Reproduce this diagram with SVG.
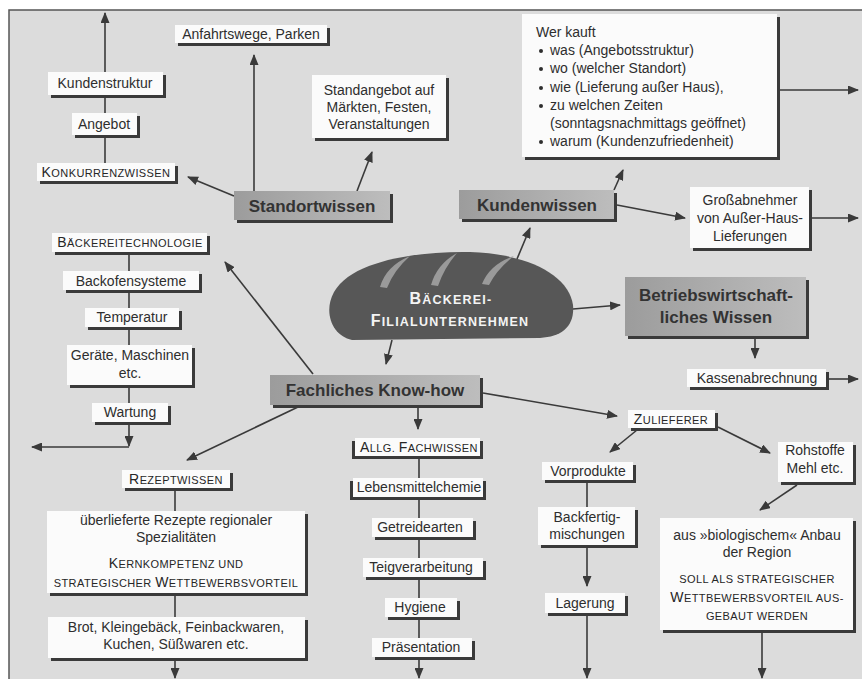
<svg xmlns="http://www.w3.org/2000/svg" width="862" height="679" viewBox="0 0 862 679">
  <defs>
    <marker id="ah" markerWidth="11" markerHeight="9" refX="10" refY="4.5" orient="auto" markerUnits="userSpaceOnUse">
      <path d="M0,0 L11,4.5 L0,9 Z" fill="#3a3a3a"/>
    </marker>
    <linearGradient id="gk" x1="0" y1="0" x2="1" y2="0">
      <stop offset="0" stop-color="#9c9c9c"/>
      <stop offset="1" stop-color="#bdbdbd"/>
    </linearGradient>
    <style>
      text { font-family: "Liberation Sans", Arial, sans-serif; fill: #2e2e2e; }
      .t { font-size: 14px; text-anchor: middle; }
      .l { font-size: 14px; }
      .h { font-size: 17px; font-weight: bold; text-anchor: middle; fill: #333; }
      .sc { font-size: 11px; text-anchor: middle; letter-spacing: 0.4px; fill: #262626; }
      .cap { font-size: 14px; }
      .box { fill: #fbfbfb; }
      .sh { fill: #3a3a3a; }
      .gbox { fill: url(#gk); }
      .con line { stroke: #3a3a3a; stroke-width: 1.6; fill: none; }
      .arr { marker-end: url(#ah); }
      .loaftxt { font-size: 12.5px; font-weight: bold; fill: #f4f4f4; text-anchor: middle; letter-spacing: 1.2px; }
      .loafcap { font-size: 16px; }
    </style>
  </defs>

  <!-- page and frame -->
  <rect width="862" height="679" fill="#ffffff"/>
  <rect x="9" y="10" width="853" height="669" fill="#dcdcdc"/>
  <polyline points="9,679 9,10 862,10" fill="none" stroke="#555" stroke-width="1.5"/>

  <!-- connectors -->
  <g id="connectors" class="con">
    <line class="arr" x1="105" y1="72" x2="105" y2="13"/>
    <line x1="105" y1="95" x2="105" y2="113"/>
    <line x1="105" y1="135" x2="105" y2="163"/>
    <line class="arr" x1="254" y1="191" x2="254" y2="55"/>
    <line class="arr" x1="234" y1="196" x2="188" y2="177"/>
    <line class="arr" x1="357" y1="191" x2="372" y2="152"/>
    <line class="arr" x1="614" y1="190" x2="623" y2="170"/>
    <line class="arr" x1="780" y1="90" x2="858" y2="90"/>
    <line class="arr" x1="617" y1="205" x2="685" y2="218"/>
    <line class="arr" x1="812" y1="218" x2="858" y2="218"/>
    <line class="arr" x1="517" y1="259" x2="530" y2="228"/>
    <line class="arr" x1="573" y1="309" x2="620" y2="305"/>
    <line class="arr" x1="755" y1="339" x2="755" y2="358"/>
    <line class="arr" x1="829" y1="379" x2="858" y2="379"/>
    <line class="arr" x1="392" y1="340" x2="386" y2="364"/>
    <line class="arr" x1="313" y1="374" x2="225" y2="262"/>
    <line x1="129" y1="252" x2="129" y2="271"/>
    <line x1="129" y1="290" x2="129" y2="308"/>
    <line x1="129" y1="327" x2="129" y2="345"/>
    <line x1="129" y1="385" x2="129" y2="403"/>
    <line class="arr" x1="129" y1="422" x2="129" y2="446"/>
    <line class="arr" x1="129" y1="447" x2="32" y2="447"/>
    <line class="arr" x1="298" y1="407" x2="187" y2="460"/>
    <line class="arr" x1="418" y1="407" x2="418" y2="429"/>
    <line x1="419" y1="458" x2="419" y2="478"/>
    <line x1="419" y1="497" x2="419" y2="518"/>
    <line x1="419" y1="537" x2="419" y2="558"/>
    <line x1="419" y1="577" x2="419" y2="598"/>
    <line x1="419" y1="617" x2="419" y2="638"/>
    <line class="arr" x1="419" y1="659" x2="419" y2="678"/>
    <line x1="175" y1="490" x2="175" y2="511"/>
    <line x1="175" y1="595" x2="175" y2="617"/>
    <line class="arr" x1="175" y1="660" x2="175" y2="678"/>
    <line class="arr" x1="483" y1="393" x2="617" y2="416"/>
    <line class="arr" x1="637" y1="430" x2="610" y2="452"/>
    <line class="arr" x1="718" y1="427" x2="770" y2="453"/>
    <line x1="587" y1="482" x2="587" y2="507"/>
    <line class="arr" x1="587" y1="547" x2="587" y2="586"/>
    <line class="arr" x1="587" y1="615" x2="587" y2="678"/>
    <line class="arr" x1="797" y1="485" x2="760" y2="510"/>
    <line class="arr" x1="762" y1="633" x2="762" y2="678"/>
  </g>

  <!-- centre: bread loaf with scored crust -->
  <g id="loaf">
    <path d="M352,340 C332,336 323,312 334,292 C352,260 420,251 470,252 C530,254 569,276 573,305 C575,326 562,337 540,338 Z" fill="#575757"/>
    <path d="M380,287 Q386,266 410,256 Q394,270 387,288 Z" fill="#9a9a9a"/>
    <path d="M431,285 Q437,264 457,253 Q444,268 438,286 Z" fill="#9a9a9a"/>
    <path d="M482,284 Q490,264 514,256 Q497,269 489,285 Z" fill="#9a9a9a"/>
    <text class="loaftxt" x="451" y="304"><tspan class="loafcap">B</tspan>ÄCKEREI-</text>
    <text class="loaftxt" x="450" y="326"><tspan class="loafcap">F</tspan>ILIALUNTERNEHMEN</text>
  </g>

  <!-- Standortwissen branch -->
  <g id="standortwissen">
    <rect class="sh" x="237" y="194" width="156" height="29"/>
    <rect class="gbox" x="234" y="191" width="156" height="29"/>
    <text class="h" x="312" y="212">Standortwissen</text>
  </g>
  <g id="anfahrtswege">
    <rect class="sh" x="178" y="28" width="152" height="18"/>
    <rect class="box" x="175" y="25" width="152" height="18"/>
    <text class="t" x="251" y="39">Anfahrtswege, Parken</text>
  </g>
  <g id="standangebot">
    <rect class="sh" x="315" y="78" width="134" height="63"/>
    <rect class="box" x="312" y="75" width="134" height="63"/>
    <text class="t" x="379" y="95">Standangebot auf</text>
    <text class="t" x="379" y="112">Märkten, Festen,</text>
    <text class="t" x="379" y="129">Veranstaltungen</text>
  </g>
  <g id="konkurrenzwissen">
    <rect class="sh" x="40" y="166" width="138" height="18"/>
    <rect class="box" x="37" y="163" width="138" height="18"/>
    <text class="sc" x="106" y="177"><tspan class="cap">K</tspan>ONKURRENZWISSEN</text>
  </g>
  <g id="angebot">
    <rect class="sh" x="75" y="116" width="65" height="22"/>
    <rect class="box" x="72" y="113" width="65" height="22"/>
    <text class="t" x="104" y="129">Angebot</text>
  </g>
  <g id="kundenstruktur">
    <rect class="sh" x="51" y="75" width="115" height="23"/>
    <rect class="box" x="48" y="72" width="115" height="23"/>
    <text class="t" x="105" y="88">Kundenstruktur</text>
  </g>

  <!-- Kundenwissen branch -->
  <g id="kundenwissen">
    <rect class="sh" x="462" y="193" width="155" height="29"/>
    <rect class="gbox" x="459" y="190" width="155" height="29"/>
    <text class="h" x="537" y="211">Kundenwissen</text>
  </g>
  <g id="wer-kauft">
    <rect class="sh" x="525" y="17" width="255" height="143"/>
    <rect class="box" x="522" y="14" width="255" height="143"/>
    <text class="l" x="536" y="37">Wer kauft</text>
    <g fill="#2e2e2e">
      <circle cx="541" cy="51" r="2"/>
      <circle cx="541" cy="69" r="2"/>
      <circle cx="541" cy="88" r="2"/>
      <circle cx="541" cy="106" r="2"/>
      <circle cx="541" cy="142" r="2"/>
    </g>
    <text class="l" x="550" y="55">was (Angebotsstruktur)</text>
    <text class="l" x="550" y="73">wo (welcher Standort)</text>
    <text class="l" x="550" y="92">wie (Lieferung außer Haus),</text>
    <text class="l" x="550" y="110">zu welchen Zeiten</text>
    <text class="l" x="550" y="128">(sonntagsnachmittags geöffnet)</text>
    <text class="l" x="550" y="146">warum (Kundenzufriedenheit)</text>
  </g>
  <g id="grossabnehmer">
    <rect class="sh" x="693" y="190" width="119" height="61"/>
    <rect class="box" x="690" y="187" width="119" height="61"/>
    <text class="t" x="750" y="205">Großabnehmer</text>
    <text class="t" x="750" y="223">von Außer-Haus-</text>
    <text class="t" x="750" y="241">Lieferungen</text>
  </g>

  <!-- Betriebswirtschaft branch -->
  <g id="betriebswirtschaft">
    <rect class="sh" x="628" y="280" width="181" height="59"/>
    <rect class="gbox" x="625" y="277" width="181" height="59"/>
    <text class="h" x="716" y="301">Betriebswirtschaft-</text>
    <text class="h" x="716" y="323">liches Wissen</text>
  </g>
  <g id="kassenabrechnung">
    <rect class="sh" x="690" y="372" width="139" height="18"/>
    <rect class="box" x="687" y="369" width="139" height="18"/>
    <text class="t" x="757" y="383">Kassenabrechnung</text>
  </g>

  <!-- Fachliches Know-how branch -->
  <g id="fachliches-know-how">
    <rect class="sh" x="273" y="378" width="210" height="30"/>
    <rect class="gbox" x="270" y="375" width="210" height="30"/>
    <text class="h" x="375" y="396">Fachliches Know-how</text>
  </g>
  <g id="baeckereitechnologie">
    <rect class="sh" x="55" y="236" width="155" height="19"/>
    <rect class="box" x="52" y="233" width="155" height="19"/>
    <text class="sc" x="130" y="247"><tspan class="cap">B</tspan>ÄCKEREITECHNOLOGIE</text>
  </g>
  <g id="backofensysteme">
    <rect class="sh" x="66" y="274" width="136" height="19"/>
    <rect class="box" x="63" y="271" width="136" height="19"/>
    <text class="t" x="131" y="286">Backofensysteme</text>
  </g>
  <g id="temperatur">
    <rect class="sh" x="88" y="311" width="94" height="19"/>
    <rect class="box" x="85" y="308" width="94" height="19"/>
    <text class="t" x="132" y="322">Temperatur</text>
  </g>
  <g id="geraete">
    <rect class="sh" x="70" y="348" width="125" height="40"/>
    <rect class="box" x="67" y="345" width="125" height="40"/>
    <text class="t" x="130" y="360">Geräte, Maschinen</text>
    <text class="t" x="130" y="378">etc.</text>
  </g>
  <g id="wartung">
    <rect class="sh" x="95" y="406" width="76" height="19"/>
    <rect class="box" x="92" y="403" width="76" height="19"/>
    <text class="t" x="130" y="417">Wartung</text>
  </g>
  <g id="rezeptwissen">
    <rect class="sh" x="125" y="473" width="108" height="18"/>
    <rect class="box" x="122" y="470" width="108" height="18"/>
    <text class="sc" x="176" y="484"><tspan class="cap">R</tspan>EZEPTWISSEN</text>
  </g>
  <g id="rezepte-regional">
    <rect class="sh" x="50" y="514" width="258" height="82"/>
    <rect class="box" x="47" y="511" width="258" height="82"/>
    <text class="t" x="176" y="525">überlieferte Rezepte regionaler</text>
    <text class="t" x="176" y="542">Spezialitäten</text>
    <text class="sc" x="176" y="568"><tspan class="cap">K</tspan>ERNKOMPETENZ UND</text>
    <text class="sc" x="176" y="587">STRATEGISCHER <tspan class="cap">W</tspan>ETTBEWERBSVORTEIL</text>
  </g>
  <g id="backwaren">
    <rect class="sh" x="51" y="620" width="257" height="41"/>
    <rect class="box" x="48" y="617" width="257" height="41"/>
    <text class="t" x="176" y="632">Brot, Kleingebäck, Feinbackwaren,</text>
    <text class="t" x="176" y="649">Kuchen, Süßwaren etc.</text>
  </g>
  <g id="allg-fachwissen">
    <rect class="sh" x="352" y="441" width="131" height="18"/>
    <rect class="box" x="355" y="438" width="125" height="18"/>
    <text class="sc" x="419" y="452"><tspan class="cap">A</tspan>LLG. <tspan class="cap">F</tspan>ACHWISSEN</text>
  </g>
  <g id="lebensmittelchemie">
    <rect class="sh" x="350" y="481" width="136" height="19"/>
    <rect class="box" x="353" y="478" width="130" height="19"/>
    <text class="t" x="419" y="492">Lebensmittelchemie</text>
  </g>
  <g id="getreidearten">
    <rect class="sh" x="375" y="521" width="101" height="19"/>
    <rect class="box" x="372" y="518" width="101" height="19"/>
    <text class="t" x="420" y="532">Getreidearten</text>
  </g>
  <g id="teigverarbeitung">
    <rect class="sh" x="366" y="561" width="120" height="19"/>
    <rect class="box" x="363" y="558" width="120" height="19"/>
    <text class="t" x="421" y="572">Teigverarbeitung</text>
  </g>
  <g id="hygiene">
    <rect class="sh" x="388" y="601" width="72" height="19"/>
    <rect class="box" x="385" y="598" width="72" height="19"/>
    <text class="t" x="420" y="612">Hygiene</text>
  </g>
  <g id="praesentation">
    <rect class="sh" x="375" y="641" width="100" height="19"/>
    <rect class="box" x="372" y="638" width="100" height="19"/>
    <text class="t" x="421" y="652">Präsentation</text>
  </g>

  <!-- Zulieferer branch -->
  <g id="zulieferer">
    <rect class="sh" x="631" y="413" width="87" height="18"/>
    <rect class="box" x="628" y="410" width="87" height="18"/>
    <text class="sc" x="671" y="424"><tspan class="cap">Z</tspan>ULIEFERER</text>
  </g>
  <g id="vorprodukte">
    <rect class="sh" x="545" y="465" width="91" height="18"/>
    <rect class="box" x="542" y="462" width="91" height="18"/>
    <text class="t" x="588" y="476">Vorprodukte</text>
  </g>
  <g id="backfertigmischungen">
    <rect class="sh" x="541" y="510" width="97" height="38"/>
    <rect class="box" x="538" y="507" width="97" height="38"/>
    <text class="t" x="587" y="522">Backfertig-</text>
    <text class="t" x="587" y="539">mischungen</text>
  </g>
  <g id="lagerung">
    <rect class="sh" x="548" y="596" width="80" height="20"/>
    <rect class="box" x="545" y="593" width="80" height="20"/>
    <text class="t" x="585" y="608">Lagerung</text>
  </g>
  <g id="rohstoffe">
    <rect class="sh" x="781" y="445" width="75" height="40"/>
    <rect class="box" x="778" y="442" width="75" height="40"/>
    <text class="t" x="815" y="455">Rohstoffe</text>
    <text class="t" x="815" y="473">Mehl etc.</text>
  </g>
  <g id="bio-anbau">
    <rect class="sh" x="663" y="521" width="193" height="112"/>
    <rect class="box" x="660" y="518" width="193" height="112"/>
    <text class="t" x="757" y="540">aus »biologischem« Anbau</text>
    <text class="t" x="757" y="557">der Region</text>
    <text class="sc" x="757" y="583">SOLL ALS STRATEGISCHER</text>
    <text class="sc" x="757" y="602"><tspan class="cap">W</tspan>ETTBEWERBSVORTEIL AUS-</text>
    <text class="sc" x="757" y="620">GEBAUT WERDEN</text>
  </g>
</svg>
